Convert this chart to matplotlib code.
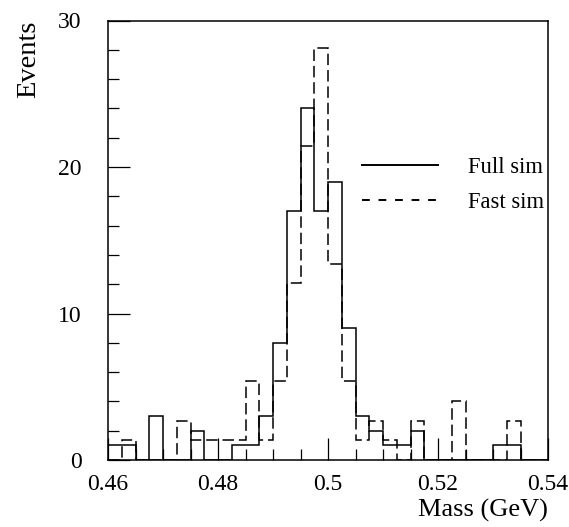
import numpy as np
import matplotlib
matplotlib.use('Agg')
import matplotlib.pyplot as plt
from matplotlib.ticker import MultipleLocator

# binning of the mass histogram (GeV)
mass_lo, mass_hi, n_bins = 0.46, 0.54, 32

# full simulation, entries per bin
full_sim = [1, 1, 0, 3, 0, 0, 2, 0, 0, 1, 1, 3, 8, 17, 24, 17,
            19, 9, 3, 2, 1, 1, 2, 0, 0, 0, 0, 0, 1, 1, 0, 0]

# fast simulation, normalised to the full one
fast_sim = [0, 1.34, 0, 0, 0, 2.68, 1.34, 1.34, 1.34, 1.34, 5.36, 1.34,
            5.36, 12.06, 21.44, 28.14, 13.4, 5.36, 1.34, 2.68, 1.34, 0,
            2.68, 0, 0, 4.02, 0, 0, 0, 2.68, 0, 0]

edges = np.linspace(mass_lo, mass_hi, n_bins + 1)

plt.rcParams['font.family'] = ['Liberation Serif', 'DejaVu Serif']

fig = plt.figure(figsize=(5.69, 5.27), dpi=100)
ax = fig.add_axes([108 / 569., 1 - 460 / 527., 440 / 569., 439.5 / 527.])

ax.stairs(full_sim, edges, baseline=0, color='black', lw=1.1,
          label='Full sim')
ax.stairs(fast_sim, edges, baseline=0, color='black', lw=1.1,
          linestyle=(0, (7.5, 3.2)), label='Fast sim')

ax.set_xlim(mass_lo, mass_hi)
ax.set_ylim(0, 30)

ax.xaxis.set_minor_locator(MultipleLocator(0.005))
ax.yaxis.set_major_locator(MultipleLocator(10))
ax.yaxis.set_minor_locator(MultipleLocator(2))
ax.set_xticks([0.46, 0.48, 0.5, 0.52, 0.54])
ax.set_xticklabels(['0.46', '0.48', '0.5', '0.52', '0.54'])

ax.tick_params(which='both', direction='in', top=False, right=False,
               labelsize=17, width=0.9)
ax.tick_params(which='major', length=15.8)
ax.tick_params(which='minor', length=7.9)
ax.tick_params(axis='y', pad=19)
ax.tick_params(axis='x', pad=10)

for s in ax.spines.values():
    s.set_linewidth(1.1)

ax.set_ylabel('Events', fontsize=20.5, loc='top', labelpad=12)
ax.set_xlabel('Mass (GeV)', fontsize=19, loc='right', labelpad=3)

leg = ax.legend(loc='upper left', bbox_to_anchor=(362 / 569., 1 - 157 / 527.),
                bbox_transform=fig.transFigure, frameon=False, fontsize=16.3,
                handlelength=3.35, handletextpad=1.35, labelspacing=0.6,
                borderpad=0, borderaxespad=0)
for h in leg.get_lines():
    h.set_linewidth(1.4)
leg.get_lines()[1].set_linestyle((0, (4, 4.5)))

fig.savefig('out.png', dpi=100)
